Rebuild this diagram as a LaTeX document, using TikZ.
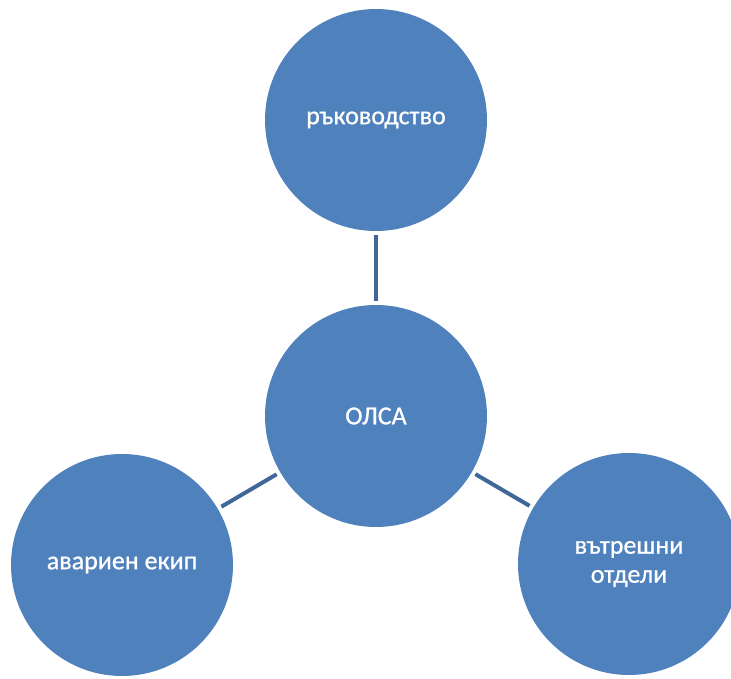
\documentclass[tikz,border=0pt]{standalone}
\usepackage{fontspec}
\setmainfont{Carlito}
\newfontfamily\bubblefont[FakeBold=0.8]{Carlito}
\definecolor{circfill}{HTML}{4F81BD}
\definecolor{linkcol}{HTML}{3F6899}
\begin{document}
\begin{tikzpicture}[x=1pt,y=-1pt,
  bubble/.style={circle, fill=circfill, inner sep=0pt, minimum size=222pt,
    text=white, align=center, font=\bubblefont\fontsize{26pt}{29pt}\selectfont},
  link/.style={draw=linkcol, line width=4pt, shorten >=4pt, shorten <=4pt}]
\useasboundingbox (0,0) rectangle (731,679);
\node[bubble] (top) at (376,120) {ръководство};
\node[bubble] (mid) at (376,416) {ОЛСА};
\node[bubble] (left) at (122,565) {авариен екип};
\node[bubble] (right) at (629,564) {вътрешни\\отдели};
\draw[link] (top) -- (mid);
\draw[link] (left) -- (mid);
\draw[link] (mid) -- (right);
\end{tikzpicture}
\end{document}
